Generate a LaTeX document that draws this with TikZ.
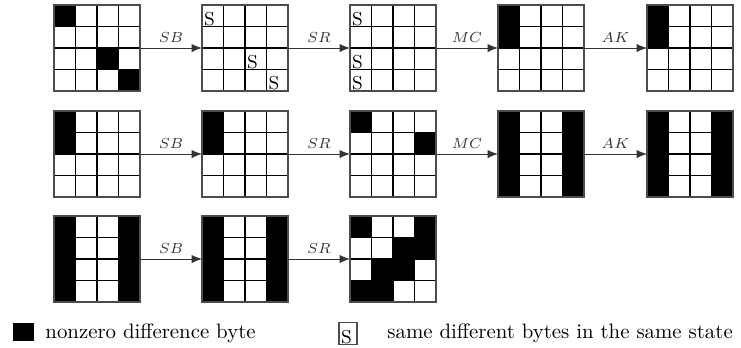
\documentclass[tikz,border=0pt]{standalone}
\usetikzlibrary{arrows.meta}
\tikzset{
  gridline/.style={line width=0.5pt, black},
  statebox/.style={draw=black!70, line width=0.7pt, minimum size=41.28pt, inner sep=0pt, outer sep=0pt},
  sbyte/.style={anchor=south west, inner sep=0.3pt, font=\small},
  cellfill/.style={fill=black, draw=black, line width=0.4pt},
  flow/.style={line width=0.45pt, black!80, -{Latex[length=5pt,width=4pt]}},
  oplabel/.style={above=2pt, font=\scriptsize, inner sep=0.5pt},
  legtext/.style={anchor=base west, inner sep=0pt},
}
% #1 x, #2 y, #3 black cells c/r
\newcommand\blackcells[3]{%
  \foreach \c/\r in {#3} {\filldraw[cellfill] (#1+\c*21.5,#2+\r*21.5) rectangle ++(21.5,21.5);}
}
% #1 name, #2 x, #3 y
\newcommand\stategrid[3]{%
  \foreach \i in {1,2,3} {\draw[gridline] (#2+\i*21.5,#3) -- ++(0,86); \draw[gridline] (#2,#3+\i*21.5) -- ++(86,0);}
  \node[statebox] (#1) at (#2+43,#3+43) {};
}
\newcommand\sbytes[3]{%
  \foreach \c/\r in {#3} {\node[sbyte] at (#1+\c*21.5+1.2,#2+\r*21.5+21.5) {S};}
}
\begin{document}
\begin{tikzpicture}[x=0.48pt,y=-0.48pt]
\useasboundingbox (0,0) rectangle (741,347);
% row 1
\blackcells{54}{5}{0/0,2/2,3/3}
\stategrid{a1}{54}{5}
\stategrid{a2}{202}{5}
\sbytes{202}{5}{0/0,2/2,3/3}
\stategrid{a3}{350}{5}
\sbytes{350}{5}{0/0,0/2,0/3}
\blackcells{498}{5}{0/0,0/1}
\stategrid{a4}{498}{5}
\blackcells{647}{5}{0/0,0/1}
\stategrid{a5}{647}{5}
% row 2
\blackcells{54}{111}{0/0,0/1}
\stategrid{b1}{54}{111}
\blackcells{202}{111}{0/0,0/1}
\stategrid{b2}{202}{111}
\blackcells{350}{111}{0/0,3/1}
\stategrid{b3}{350}{111}
\blackcells{498}{111}{0/0,0/1,0/2,0/3,3/0,3/1,3/2,3/3}
\stategrid{b4}{498}{111}
\blackcells{647}{111}{0/0,0/1,0/2,0/3,3/0,3/1,3/2,3/3}
\stategrid{b5}{647}{111}
% row 3
\blackcells{54}{216}{0/0,0/1,0/2,0/3,3/0,3/1,3/2,3/3}
\stategrid{c1}{54}{216}
\blackcells{202}{216}{0/0,0/1,0/2,0/3,3/0,3/1,3/2,3/3}
\stategrid{c2}{202}{216}
\blackcells{350}{216}{0/0,3/0,2/1,3/1,1/2,2/2,0/3,1/3}
\stategrid{c3}{350}{216}
% arrows
\draw[flow] (a1.east) -- (a2.west) node[midway, oplabel] {$SB$};
\draw[flow] (a2.east) -- (a3.west) node[midway, oplabel] {$SR$};
\draw[flow] (a3.east) -- (a4.west) node[midway, oplabel] {$MC$};
\draw[flow] (a4.east) -- (a5.west) node[midway, oplabel] {$AK$};
\draw[flow] (b1.east) -- (b2.west) node[midway, oplabel] {$SB$};
\draw[flow] (b2.east) -- (b3.west) node[midway, oplabel] {$SR$};
\draw[flow] (b3.east) -- (b4.west) node[midway, oplabel] {$MC$};
\draw[flow] (b4.east) -- (b5.west) node[midway, oplabel] {$AK$};
\draw[flow] (c1.east) -- (c2.west) node[midway, oplabel] {$SB$};
\draw[flow] (c2.east) -- (c3.west) node[midway, oplabel] {$SR$};
% legend
\node[fill=black, minimum width=10pt, minimum height=9pt, inner sep=0pt] (lb) at (23.5,332) {};
\node[legtext] (lt) at (45,338) {nonzero difference byte};
\node[draw=black!70, line width=0.6pt, minimum width=8.6pt, minimum height=10.8pt, inner sep=0pt] (ls) at (348,333.5) {};
\node[sbyte] (lss) at (ls.south west) [xshift=0.8pt] {S};
\node[legtext] (lst) at (387,338) {same different bytes in the same state};
\end{tikzpicture}
\end{document}
